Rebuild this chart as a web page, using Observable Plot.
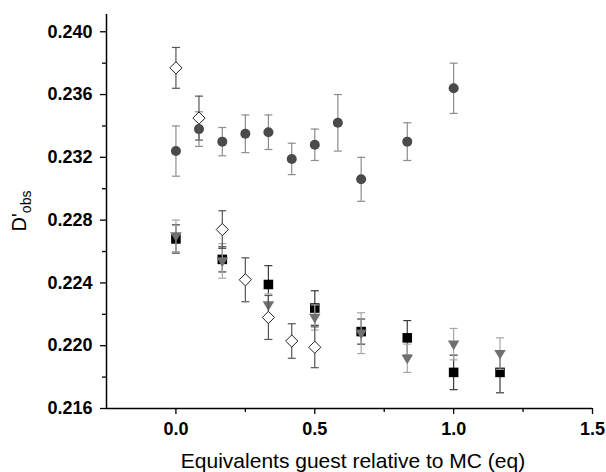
<!DOCTYPE html>
<html>
<head>
<meta charset="utf-8">
<script src="https://cdn.jsdelivr.net/npm/d3@7"></script>
<script src="https://cdn.jsdelivr.net/npm/@observablehq/plot@0.6"></script>
<style>
  html, body { margin: 0; padding: 0; background: #fff; }
</style>
</head>
<body>
<div id="chart"></div>
<script>
// ---- data ----
const circX = [0, 0.083, 0.167, 0.25, 0.333, 0.417, 0.5, 0.583, 0.667, 0.833, 1.0];
const circY = [0.2324, 0.2338, 0.2330, 0.2335, 0.2336, 0.2319, 0.2328, 0.2342, 0.2306, 0.2330, 0.2364];
const circE = [0.0016, 0.0011, 0.0009, 0.0012, 0.0011, 0.0010, 0.0010, 0.0018, 0.0014, 0.0012, 0.0016];

const diaX = [0, 0.083, 0.167, 0.25, 0.333, 0.417, 0.5];
const diaY = [0.2377, 0.2345, 0.2274, 0.2242, 0.2218, 0.2203, 0.2199];
const diaE = [0.0013, 0.0014, 0.0012, 0.0014, 0.0014, 0.0011, 0.0013];

const sqX = [0, 0.167, 0.333, 0.5, 0.667, 0.833, 1.0, 1.167];
const sqY = [0.2268, 0.2255, 0.2239, 0.2224, 0.2209, 0.2205, 0.2183, 0.2183];
const sqE = [0.0009, 0.0008, 0.0012, 0.0011, 0.0008, 0.0011, 0.0011, 0.0013];

const triX = [0, 0.167, 0.333, 0.5, 0.667, 0.833, 1.0, 1.167];
const triY = [0.2270, 0.2254, 0.2226, 0.2218, 0.2208, 0.2192, 0.2201, 0.2195];
const triE = [0.0010, 0.0011, 0.0007, 0.0008, 0.0013, 0.0009, 0.0010, 0.0010];

const yMajor = [0.216, 0.220, 0.224, 0.228, 0.232, 0.236, 0.240];
const yMinor = [0.218, 0.222, 0.226, 0.230, 0.234, 0.238];
const xMajor = [0, 0.5, 1.0, 1.5];
const xMinor = [0.25, 0.75, 1.25];

const xLabel = "Equivalents guest relative to MC (eq)";

// ---- tables ----
const toRows = (xs, ys, es) => xs.map((x, i) => ({x, y: ys[i], e: es[i]}));
const circles = toRows(circX, circY, circE);
const diamonds = toRows(diaX, diaY, diaE);
const squares = toRows(sqX, sqY, sqE);
const triangles = toRows(triX, triY, triE);

// custom symbols
const capSymbol = {
  draw(ctx, size) {
    const w = Math.sqrt(size / Math.PI);
    ctx.moveTo(-w, 0); ctx.lineTo(w, 0);
  }
};
const triDown = {
  draw(ctx, size) {
    const r = Math.sqrt(size / Math.PI);
    ctx.moveTo(-1.2 * r, -0.75 * r);
    ctx.lineTo(1.2 * r, -0.75 * r);
    ctx.lineTo(0, 1.25 * r);
    ctx.closePath();
  }
};

function errorMarks(data, color) {
  return [
    Plot.ruleX(data, {x: "x", y1: d => d.y - d.e, y2: d => d.y + d.e, stroke: color, strokeWidth: 1.2}),
    Plot.dot(data, {x: "x", y: d => d.y + d.e, symbol: capSymbol, r: 4, stroke: color, strokeWidth: 1.2, fill: "none"}),
    Plot.dot(data, {x: "x", y: d => d.y - d.e, symbol: capSymbol, r: 4, stroke: color, strokeWidth: 1.2, fill: "none"})
  ];
}

const font = "'Liberation Sans', Arial, Helvetica, sans-serif";

const chart = Plot.plot({
  width: 606,
  height: 472,
  marginLeft: 106,
  marginRight: 14,
  marginTop: 14,
  marginBottom: 64,
  x: {domain: [-0.25, 1.5]},
  y: {domain: [0.216, 0.2411]},
  style: {fontFamily: font, background: "#fff", color: "#000"},
  marks: [
    Plot.axisY(yMajor, {tickSize: 6, tickPadding: 8, tickFormat: d3.format(".3f"), fontSize: 18, fontWeight: "bold", strokeWidth: 1.3, label: null}),
    Plot.axisY(yMinor, {tickSize: 4, tickFormat: () => "", strokeWidth: 1.3, label: null}),
    Plot.axisX(xMajor, {tickSize: 6, tickPadding: 8, tickFormat: d3.format(".1f"), fontSize: 18, fontWeight: "bold", strokeWidth: 1.3, label: null}),
    Plot.axisX(xMinor, {tickSize: 4, tickFormat: () => "", strokeWidth: 1.3, label: null}),
    Plot.ruleX([-0.25], {stroke: "#000", strokeWidth: 1.5}),
    Plot.ruleY([0.216], {stroke: "#000", strokeWidth: 1.5}),

    ...errorMarks(squares, "#3a3a3a"),
    Plot.dot(squares, {x: "x", y: "y", symbol: "square", r: 5.4, fill: "#000", stroke: "none"}),

    ...errorMarks(triangles, "#a8a8a8"),
    Plot.dot(triangles, {x: "x", y: "y", symbol: triDown, r: 4.8, fill: "#707070", stroke: "none"}),

    ...errorMarks(circles, "#8c8c8c"),
    Plot.dot(circles, {x: "x", y: "y", symbol: "circle", r: 5, fill: "#4a4a4a", stroke: "none"}),

    ...errorMarks(diamonds, "#555"),
    Plot.dot(diamonds, {x: "x", y: "y", symbol: "diamond2", r: 5.5, fill: "#fff", stroke: "#222", strokeWidth: 1})
  ]
});

document.getElementById("chart").appendChild(chart);

const svg = d3.select(chart);
// x-axis title
svg.append("text")
  .attr("x", 353)
  .attr("y", 468)
  .attr("text-anchor", "middle")
  .attr("font-family", font)
  .attr("font-size", 21)
  .attr("fill", "#000")
  .text(xLabel);

// y-axis title D'obs
const yt = svg.append("text")
  .attr("transform", "translate(26,211) rotate(-90)")
  .attr("text-anchor", "middle")
  .attr("font-family", font)
  .attr("font-size", 20)
  .attr("fill", "#000");
yt.append("tspan").text("D'");
yt.append("tspan").attr("font-size", 14).attr("dy", 5).text("obs");
</script>
</body>
</html>
